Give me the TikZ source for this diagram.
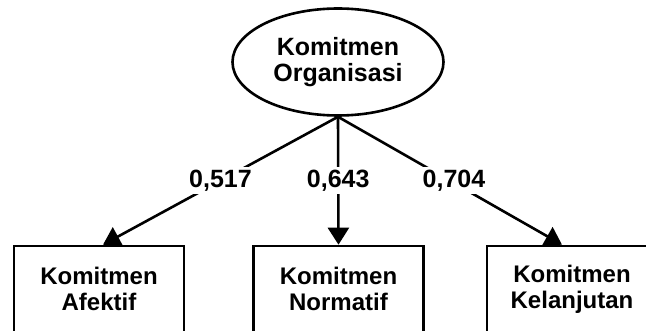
\documentclass[tikz,border=0pt]{standalone}
\usepackage{fontspec}
\setmainfont{Liberation Sans}
\usetikzlibrary{shapes.geometric,arrows.meta}

\tikzset{
  konstruk/.style={draw,line width=2.6pt,ellipse,minimum width=211pt,minimum height=107pt,inner sep=0pt,align=center,font=\fontsize{25}{26}\selectfont\bfseries},
  indikator/.style={draw,line width=2.6pt,rectangle,minimum width=170pt,minimum height=86pt,inner sep=0pt,align=center,font=\fontsize{24}{26}\selectfont\bfseries},
  jalur/.style={line width=2.6pt,-{Triangle[length=17pt,width=21pt]}},
  bobot/.style={fill=white,inner sep=3pt,font=\fontsize{25}{27}\selectfont\bfseries}
}

\begin{document}
\begin{tikzpicture}[x=1pt,y=-1pt]
\useasboundingbox (0,0) rectangle (646,331);
\node[konstruk] (org) at (338,62) {Komitmen\\Organisasi};
\node[indikator] (afe) at (99,289) {Komitmen\\Afektif};
\node[indikator] (nor) at (338.5,289) {Komitmen\\Normatif};
\node[indikator] (kel) at (572,289) {Komitmen\\Kelanjutan};
\draw[jalur] (org.south) -- node[bobot] {0,517} ([xshift=4pt]afe.north);
\draw[jalur] (org.south) -- node[bobot] {0,643} (nor.north);
\draw[jalur] (org.south) -- node[bobot,xshift=4pt] {0,704} ([xshift=-10pt]kel.north);
\end{tikzpicture}
\end{document}
